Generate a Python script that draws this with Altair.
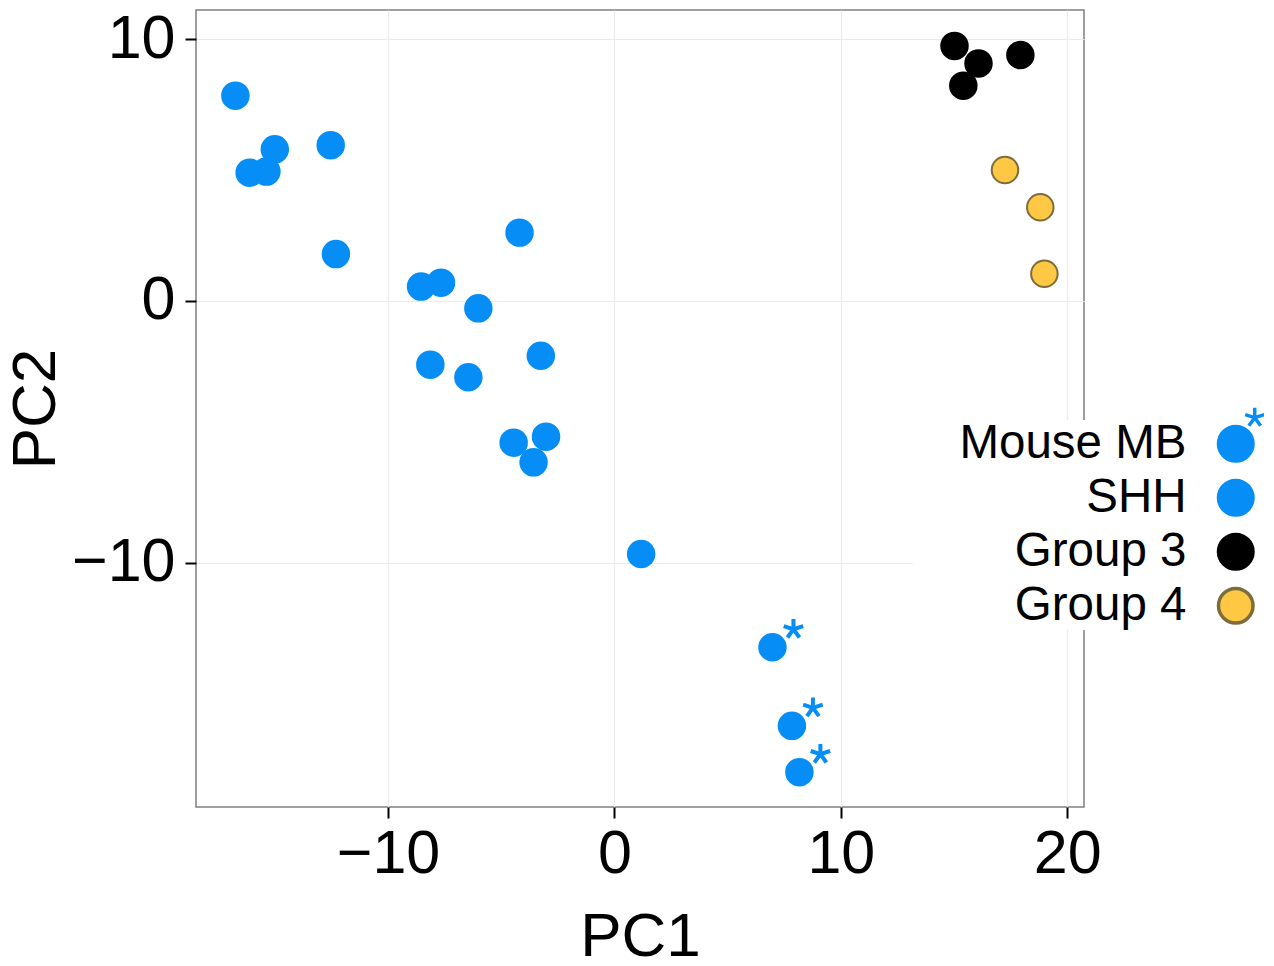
import math
import altair as alt
import pandas as pd

# ---- data ----
groups_order = ["Mouse MB", "SHH", "Group 3", "Group 4"]

shh_pc1 = [-16.74, -15.00, -16.11, -15.37, -12.53, -12.30, -8.54, -7.66, -4.19,
           -6.01, -8.13, -6.45, -3.25, -4.45, -3.02, -3.57, 1.18]
shh_pc2 = [7.84, 5.79, 4.90, 4.94, 5.95, 1.79, 0.55, 0.70, 2.61,
           -0.28, -2.43, -2.91, -2.09, -5.41, -5.18, -6.16, -9.66]

mouse_pc1 = [6.98, 7.84, 8.17]
mouse_pc2 = [-13.22, -16.22, -17.99]

g3_pc1 = [15.02, 16.08, 17.93, 15.41]
g3_pc2 = [9.74, 9.07, 9.39, 8.22]

g4_pc1 = [17.25, 18.81, 18.99]
g4_pc2 = [5.00, 3.58, 1.04]

x_ticks = [-10, 0, 10, 20]
y_ticks = [-10, 0, 10]

rows = []
for name, xs, ys in [("SHH", shh_pc1, shh_pc2), ("Mouse MB", mouse_pc1, mouse_pc2),
                     ("Group 3", g3_pc1, g3_pc2), ("Group 4", g4_pc1, g4_pc2)]:
    for a, b in zip(xs, ys):
        rows.append({"PC1": a, "PC2": b, "group": name})
df = pd.DataFrame(rows)

# ---- styles ----
BLUE = "#068ef6"
YELLOW = "#ffc844"
BROWN = "#7d6c3c"
FONT = "Liberation Sans"


def asterisk(cx, cy, r):
    parts = []
    for ang in [-90, -18, 54, 126, 198]:
        a = math.radians(ang)
        parts.append(f"M{cx:.3f},{cy:.3f}L{cx + r * math.cos(a):.3f},{cy + r * math.sin(a):.3f}")
    return "".join(parts)


circle_path = "M1,0A1,1 0 1,1 -1,0A1,1 0 1,1 1,0Z"
legend_mouse_shape = circle_path + asterisk(1.10, -1.51, 0.58)
plot_asterisk = asterisk(0, 0, 1)

fill_scale = alt.Scale(domain=groups_order, range=[BLUE, BLUE, "#000000", YELLOW])
stroke_scale = alt.Scale(domain=groups_order, range=[BLUE, BLUE, "#000000", BROWN])
shape_scale = alt.Scale(domain=groups_order,
                        range=[legend_mouse_shape, "circle", "circle", "circle"])

leg = alt.Legend(
    orient="none", legendX=717, legendY=410, title=None,
    labelFont=FONT, labelFontSize=47.5, labelColor="black",
    labelAlign="right", labelOffset={"expr": "-73"}, labelLimit=400,
    symbolSize=1190, symbolStrokeWidth=3.5, symbolOpacity=1, symbolOffset=299,
    rowPadding=5, padding=0, fillColor="white",
)

xenc = alt.X("PC1:Q", title="PC1",
             scale=alt.Scale(domain=[-18.48, 20.74], nice=False, zero=False),
             axis=alt.Axis(values=x_ticks, format="d", labelPadding=6, titlePadding=22))
yenc = alt.Y("PC2:Q", title="PC2",
             scale=alt.Scale(domain=[-19.32, 11.11], nice=False, zero=False),
             axis=alt.Axis(values=y_ticks, format="d", labelPadding=10, titlePadding=4))

base = alt.Chart(df)

points = base.mark_point(filled=True, size=702, strokeWidth=2, opacity=1).encode(
    x=xenc, y=yenc,
    fill=alt.Fill("group:N", scale=fill_scale, legend=leg),
    stroke=alt.Stroke("group:N", scale=stroke_scale, legend=leg),
)

legend_layer = base.transform_filter("false").mark_point(filled=True, size=702, opacity=1).encode(
    x=xenc, y=yenc,
    fill=alt.Fill("group:N", scale=fill_scale, legend=leg),
    stroke=alt.Stroke("group:N", scale=stroke_scale, legend=leg),
    shape=alt.Shape("group:N", scale=shape_scale, legend=leg),
)

stars = base.transform_filter(alt.datum.group == "Mouse MB").mark_point(
    shape=plot_asterisk, size=420, filled=False, stroke=BLUE, strokeWidth=4,
    opacity=1, xOffset=21, yOffset=-18,
).encode(x=xenc, y=yenc)

chart = alt.layer(points, stars, legend_layer).properties(
    width=888, height=797,
    autosize=alt.AutoSizeParams(type="none"),
    padding={"left": 188, "top": 2, "right": 180, "bottom": 151},
).configure_view(
    stroke="#7f7f7f", strokeWidth=1.5
).configure_axis(
    grid=True, gridColor="#ebebeb", gridWidth=1.2,
    domain=False, ticks=True, tickColor="black", tickWidth=2, tickSize=11,
    labelFont=FONT, labelFontSize=61, labelColor="black",
    titleFont=FONT, titleFontSize=62, titleFontWeight="normal", titleColor="black",
)

chart.save("out.html", embed_options={"renderer": "svg", "actions": False})
